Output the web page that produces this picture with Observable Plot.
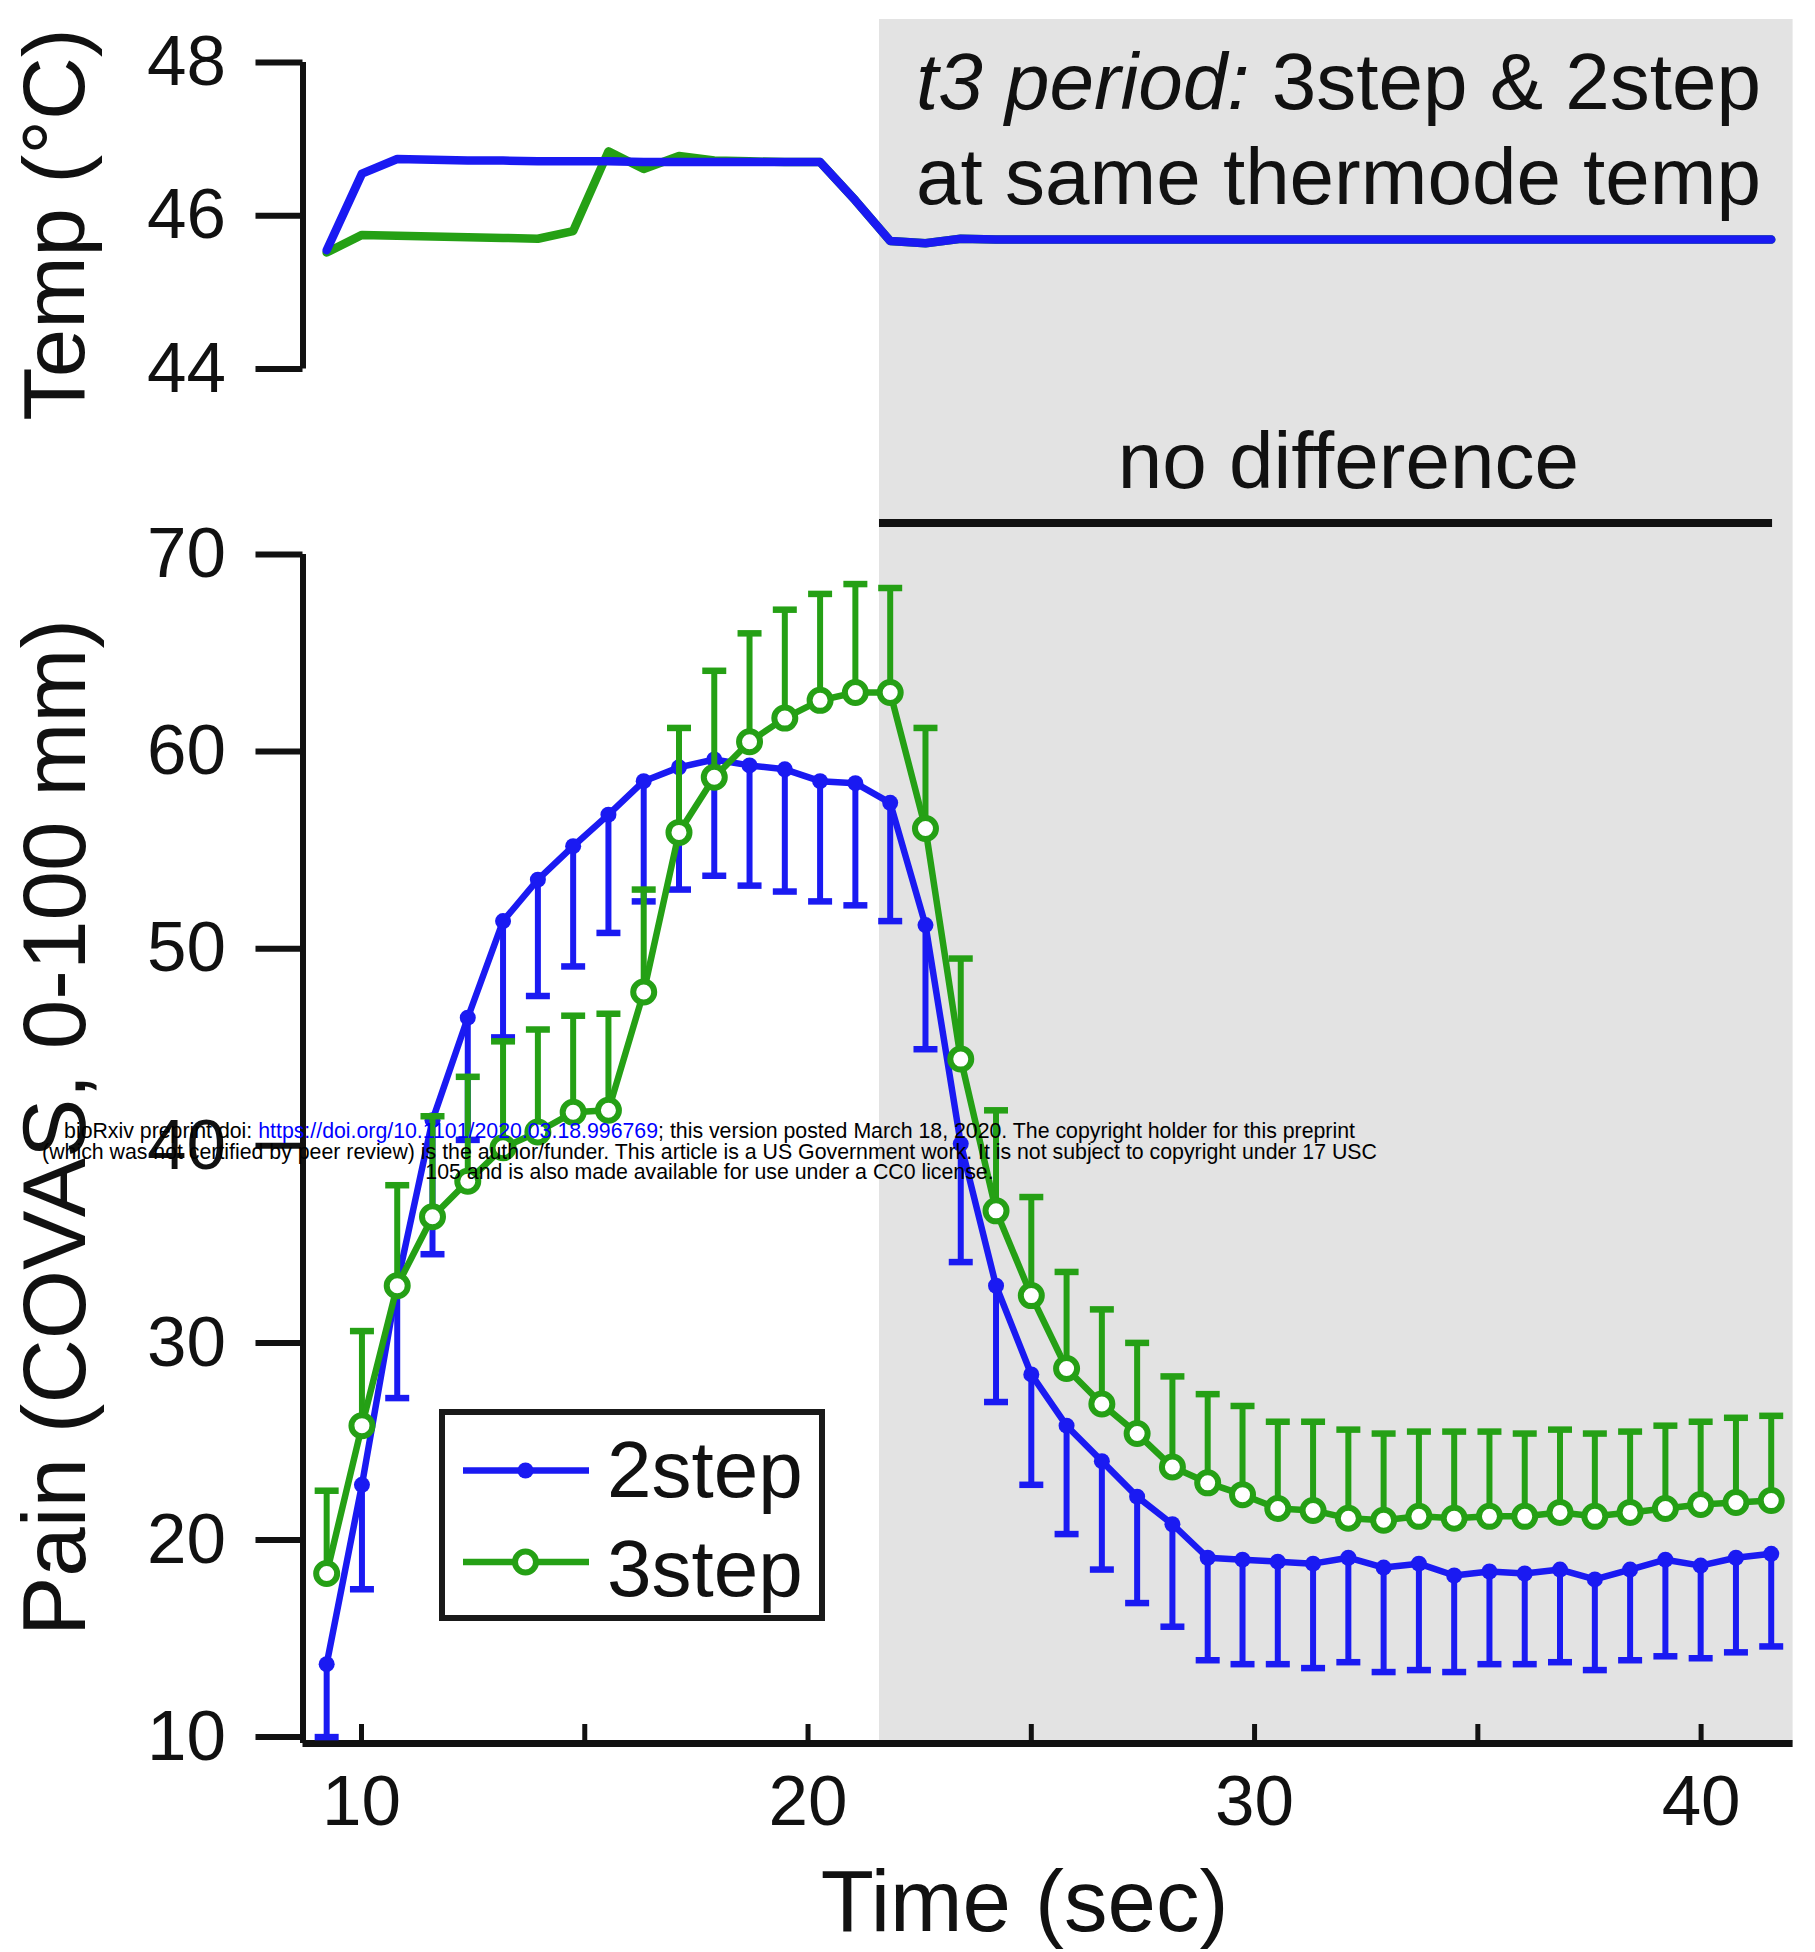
<!DOCTYPE html>
<html>
<head>
<meta charset="utf-8">
<script src="https://cdn.jsdelivr.net/npm/d3@7"></script>
<script src="https://cdn.jsdelivr.net/npm/@observablehq/plot@0.6"></script>
<style>
  body { margin: 0; background: #fff; }
  #fig { position: relative; width: 1815px; height: 1952px; overflow: hidden; background: #fff;
         font-family: "Liberation Sans", Arial, Helvetica, sans-serif; color: #111; }
  #top, #bottom { position: absolute; left: 0; }
  #top { top: 0; }
  #bottom { top: 400px; }
  #top svg, #bottom svg { display: block; overflow: visible; }
  #legend { position: absolute; left: 439px; top: 1409px; }
  #wm { position: absolute; left: 0; width: 1419px; top: 1121px; text-align: center;
        font-size: 21.3px; line-height: 20.6px; color: #000; white-space: nowrap; }
  #wm a { color: #0000ff; text-decoration: none; }
</style>
</head>
<body>
<div id="fig">
  <div id="top"></div>
  <div id="bottom"></div>
  <svg id="legend" width="386" height="212"></svg>
  <div id="wm">bioRxiv preprint doi: <a>https://doi.org/10.1101/2020.03.18.996769</a>; this version posted March 18, 2020. The copyright holder for this preprint<br>(which was not certified by peer review) is the author/funder. This article is a US Government work. It is not subject to copyright under 17 USC<br>105 and is also made available for use under a CC0 license.</div>
</div>
<script>
// ---------------- data ----------------
const time = [9.22, 10.01, 10.80, 11.59, 12.38, 13.17, 13.95, 14.74, 15.53, 16.32, 17.11, 17.90, 18.69, 19.48, 20.27, 21.06, 21.84, 22.63, 23.42, 24.21, 25.00, 25.79, 26.58, 27.37, 28.16, 28.95, 29.73, 30.52, 31.31, 32.10, 32.89, 33.68, 34.47, 35.26, 36.05, 36.84, 37.62, 38.41, 39.20, 39.99, 40.78, 41.57];

const pain2step = [13.7, 22.8, 33.0, 41.3, 46.5, 51.4, 53.5, 55.2, 56.8, 58.5, 59.2, 59.6, 59.3, 59.1, 58.5, 58.4, 57.4, 51.2, 40.1, 32.9, 28.4, 25.8, 24.0, 22.2, 20.8, 19.1, 19.0, 18.9, 18.8, 19.1, 18.6, 18.8, 18.2, 18.4, 18.3, 18.5, 18.0, 18.5, 19.0, 18.7, 19.1, 19.3];
const pain2stepLower = [10.0, 17.5, 27.2, 34.5, 40.3, 45.5, 47.6, 49.1, 50.8, 52.4, 53.0, 53.7, 53.2, 52.9, 52.4, 52.2, 51.4, 44.9, 34.1, 27.0, 22.8, 20.3, 18.5, 16.8, 15.6, 13.9, 13.7, 13.7, 13.5, 13.8, 13.3, 13.4, 13.3, 13.7, 13.7, 13.8, 13.4, 13.9, 14.1, 14.0, 14.3, 14.6];

const pain3step = [18.3, 25.8, 32.9, 36.4, 38.2, 39.9, 40.7, 41.7, 41.8, 47.8, 55.9, 58.7, 60.5, 61.7, 62.6, 63.0, 63.0, 56.1, 44.4, 36.7, 32.4, 28.7, 26.9, 25.4, 23.7, 22.9, 22.3, 21.6, 21.5, 21.1, 21.0, 21.2, 21.1, 21.2, 21.2, 21.4, 21.2, 21.4, 21.6, 21.8, 21.9, 22.0];
const pain3stepUpper = [22.5, 30.6, 38.0, 41.5, 43.5, 45.3, 45.9, 46.6, 46.7, 53.0, 61.2, 64.1, 66.0, 67.2, 68.0, 68.5, 68.3, 61.2, 49.5, 41.8, 37.4, 33.6, 31.7, 30.0, 28.3, 27.4, 26.8, 26.0, 26.0, 25.6, 25.4, 25.5, 25.5, 25.5, 25.4, 25.6, 25.4, 25.5, 25.8, 26.0, 26.2, 26.3];

const temp2step = [45.55, 46.55, 46.74, 46.73, 46.72, 46.72, 46.71, 46.71, 46.71, 46.70, 46.70, 46.70, 46.70, 46.70, 46.70, 46.20, 45.67, 45.64, 45.70, 45.69, 45.69, 45.69, 45.69, 45.69, 45.69, 45.69, 45.69, 45.69, 45.69, 45.69, 45.69, 45.69, 45.69, 45.69, 45.69, 45.69, 45.69, 45.69, 45.69, 45.69, 45.69, 45.69];
const temp3step = [45.52, 45.75, 45.74, 45.73, 45.72, 45.71, 45.70, 45.80, 46.84, 46.61, 46.78, 46.72, 46.71, 46.70, 46.70, 46.20, 45.67, 45.64, 45.70, 45.69, 45.69, 45.69, 45.69, 45.69, 45.69, 45.69, 45.69, 45.69, 45.69, 45.69, 45.69, 45.69, 45.69, 45.69, 45.69, 45.69, 45.69, 45.69, 45.69, 45.69, 45.69, 45.69];

const painTicks = [10, 20, 30, 40, 50, 60, 70];
const tempTicks = [44, 46, 48];
const timeTicks = [10, 15, 20, 25, 30, 35, 40];
const timeTickLabels = [10, 20, 30, 40];
const seriesNames = ["2step", "3step"];
const shadeWindow = [21.6, 42.06];      // t3 period (grey band)
const noDiffSpan = [21.6, 41.6];        // "no difference" bar
const annotation1a = "t3 period:";
const annotation1b = "3step & 2step";
const annotation2 = "at same thermode temp";
const noDiffLabel = "no difference";

// ---------------- styling ----------------
const FONT = '"Liberation Sans", Arial, Helvetica, sans-serif';
const BLUE = "#1a1af2", GREEN = "#25a015", SHADE = "#e3e3e3", INK = "#111";
const W = 1815, ML = 302.5, MR = 22.4;
const xDomain = [8.69, 42.06];

const rows = time.map((t, i) => ({
  t, p2: pain2step[i], p2lo: pain2stepLower[i], p3: pain3step[i], p3hi: pain3stepUpper[i],
  T2: temp2step[i], T3: temp3step[i]
}));
const shade = [{x1: shadeWindow[0], x2: shadeWindow[1]}];

const capSymbol = {
  draw(ctx, size) { const r = Math.sqrt(size / Math.PI); ctx.moveTo(-r, 0); ctx.lineTo(r, 0); }
};

// ---------------- top panel (temperature) ----------------
const topPlot = Plot.plot({
  width: W, height: 400,
  marginLeft: ML, marginRight: MR, marginTop: 19, marginBottom: 0,
  style: {fontFamily: FONT, color: INK, background: "transparent", overflow: "visible"},
  x: {domain: xDomain, axis: null},
  y: {domain: [44, 48], range: [368.5, 62]},
  marks: [
    Plot.rect(shade, {x1: "x1", x2: "x2", fill: SHADE}),
    Plot.ruleX([xDomain[0]], {y1: tempTicks[0], y2: tempTicks[tempTicks.length - 1], stroke: INK, strokeWidth: 6}),
    Plot.axisY({ticks: tempTicks, tickFormat: d => String(d), tickSize: 47, tickPadding: 30, fontSize: 71, strokeWidth: 6, label: null}),
    Plot.line(rows, {x: "t", y: "T3", stroke: GREEN, strokeWidth: 8.5, strokeLinejoin: "round"}),
    Plot.line(rows, {x: "t", y: "T2", stroke: BLUE, strokeWidth: 8.5, strokeLinejoin: "round"}),
    Plot.text([{x: 29.888, s: annotation1a}], {x: "x", text: "s", frameAnchor: "top", dy: 63.4, lineAnchor: "middle", textAnchor: "end", fontSize: 80, fontStyle: "italic", fill: INK}),
    Plot.text([{x: 30.385, s: annotation1b}], {x: "x", text: "s", frameAnchor: "top", dy: 63.4, lineAnchor: "middle", textAnchor: "start", fontSize: 80, fill: INK}),
    Plot.text([{x: 31.88, s: annotation2}], {x: "x", text: "s", frameAnchor: "top", dy: 158.4, lineAnchor: "middle", textAnchor: "middle", fontSize: 80, fill: INK}),
    Plot.text(["Temp (°C)"], {frameAnchor: "left", dx: -246.5, dy: 14.5, rotate: -90, textAnchor: "middle", lineAnchor: "middle", fontSize: 87, fill: INK})
  ]
});
document.getElementById("top").appendChild(topPlot);

// ---------------- bottom panel (pain) ----------------
const H2 = 1552, FB = 1343;
const yMin = 9.675;
const bottomPlot = Plot.plot({
  width: W, height: H2,
  marginLeft: ML, marginRight: MR, marginTop: 0, marginBottom: H2 - FB,
  style: {fontFamily: FONT, color: INK, background: "transparent", overflow: "visible"},
  x: {domain: xDomain},
  y: {domain: [yMin, 70], range: [FB, 154]},
  marks: [
    Plot.rect(shade, {x1: "x1", x2: "x2", fill: SHADE}),
    Plot.ruleY([71.6], {x1: noDiffSpan[0], x2: noDiffSpan[1], stroke: INK, strokeWidth: 8}),
    Plot.text([{x: 32.1, s: noDiffLabel}], {x: "x", text: "s", frameAnchor: "top", dy: 61.4, lineAnchor: "middle", textAnchor: "middle", fontSize: 80, fill: INK}),
    Plot.ruleY([yMin], {stroke: INK, strokeWidth: 7}),
    Plot.ruleX([xDomain[0]], {y1: painTicks[painTicks.length - 1], y2: yMin, stroke: INK, strokeWidth: 6}),
    Plot.ruleX(timeTicks, {insetTop: FB - 19, stroke: INK, strokeWidth: 5}),
    Plot.axisY({ticks: painTicks, tickFormat: d => String(d), tickSize: 47, tickPadding: 30, fontSize: 71, strokeWidth: 6, label: null}),
    Plot.axisX({ticks: timeTickLabels, tickFormat: d => String(d), tickSize: 0, tickPadding: 31, fontSize: 71, label: null}),
    // 2step: mean with downward error bars
    Plot.ruleX(rows, {x: "t", y1: "p2", y2: "p2lo", stroke: BLUE, strokeWidth: 6}),
    Plot.dot(rows, {x: "t", y: "p2lo", symbol: capSymbol, r: 12, stroke: BLUE, strokeWidth: 6.5, fill: "none"}),
    Plot.line(rows, {x: "t", y: "p2", stroke: BLUE, strokeWidth: 6.5}),
    Plot.dot(rows, {x: "t", y: "p2", r: 8, fill: BLUE, stroke: "none"}),
    // 3step: mean with upward error bars
    Plot.ruleX(rows, {x: "t", y1: "p3", y2: "p3hi", stroke: GREEN, strokeWidth: 6}),
    Plot.dot(rows, {x: "t", y: "p3hi", symbol: capSymbol, r: 12, stroke: GREEN, strokeWidth: 6.5, fill: "none"}),
    Plot.line(rows, {x: "t", y: "p3", stroke: GREEN, strokeWidth: 6.5}),
    Plot.dot(rows, {x: "t", y: "p3", r: 10.5, fill: "white", stroke: GREEN, strokeWidth: 6}),
    Plot.text(["Pain (COVAS, 0-100 mm)"], {frameAnchor: "left", dx: -246.5, dy: 55.5, rotate: -90, textAnchor: "middle", lineAnchor: "middle", fontSize: 89, fill: INK}),
    Plot.text(["Time (sec)"], {frameAnchor: "bottom", dx: -23.5, dy: 160, textAnchor: "middle", lineAnchor: "middle", fontSize: 87, fill: INK})
  ]
});
document.getElementById("bottom").appendChild(bottomPlot);

// ---------------- legend ----------------
const lg = d3.select("#legend");
lg.append("rect").attr("x", 3).attr("y", 3).attr("width", 380).attr("height", 206)
  .attr("fill", "white").attr("stroke", "#1a1a1a").attr("stroke-width", 6);
const legendRows = [
  {name: seriesNames[0], color: BLUE, y: 61.5, base: 88, filled: true},
  {name: seriesNames[1], color: GREEN, y: 153, base: 186.5, filled: false}
];
legendRows.forEach(r => {
  lg.append("line").attr("x1", 24).attr("x2", 150).attr("y1", r.y).attr("y2", r.y)
    .attr("stroke", r.color).attr("stroke-width", 6.5);
  if (r.filled) lg.append("circle").attr("cx", 86.5).attr("cy", r.y).attr("r", 8).attr("fill", r.color);
  else lg.append("circle").attr("cx", 86.5).attr("cy", r.y).attr("r", 10.5).attr("fill", "white")
    .attr("stroke", r.color).attr("stroke-width", 6);
  lg.append("text").attr("x", 168).attr("y", r.base).attr("font-size", 80)
    .attr("font-family", FONT).attr("fill", INK).text(r.name);
});
</script>
</body>
</html>
